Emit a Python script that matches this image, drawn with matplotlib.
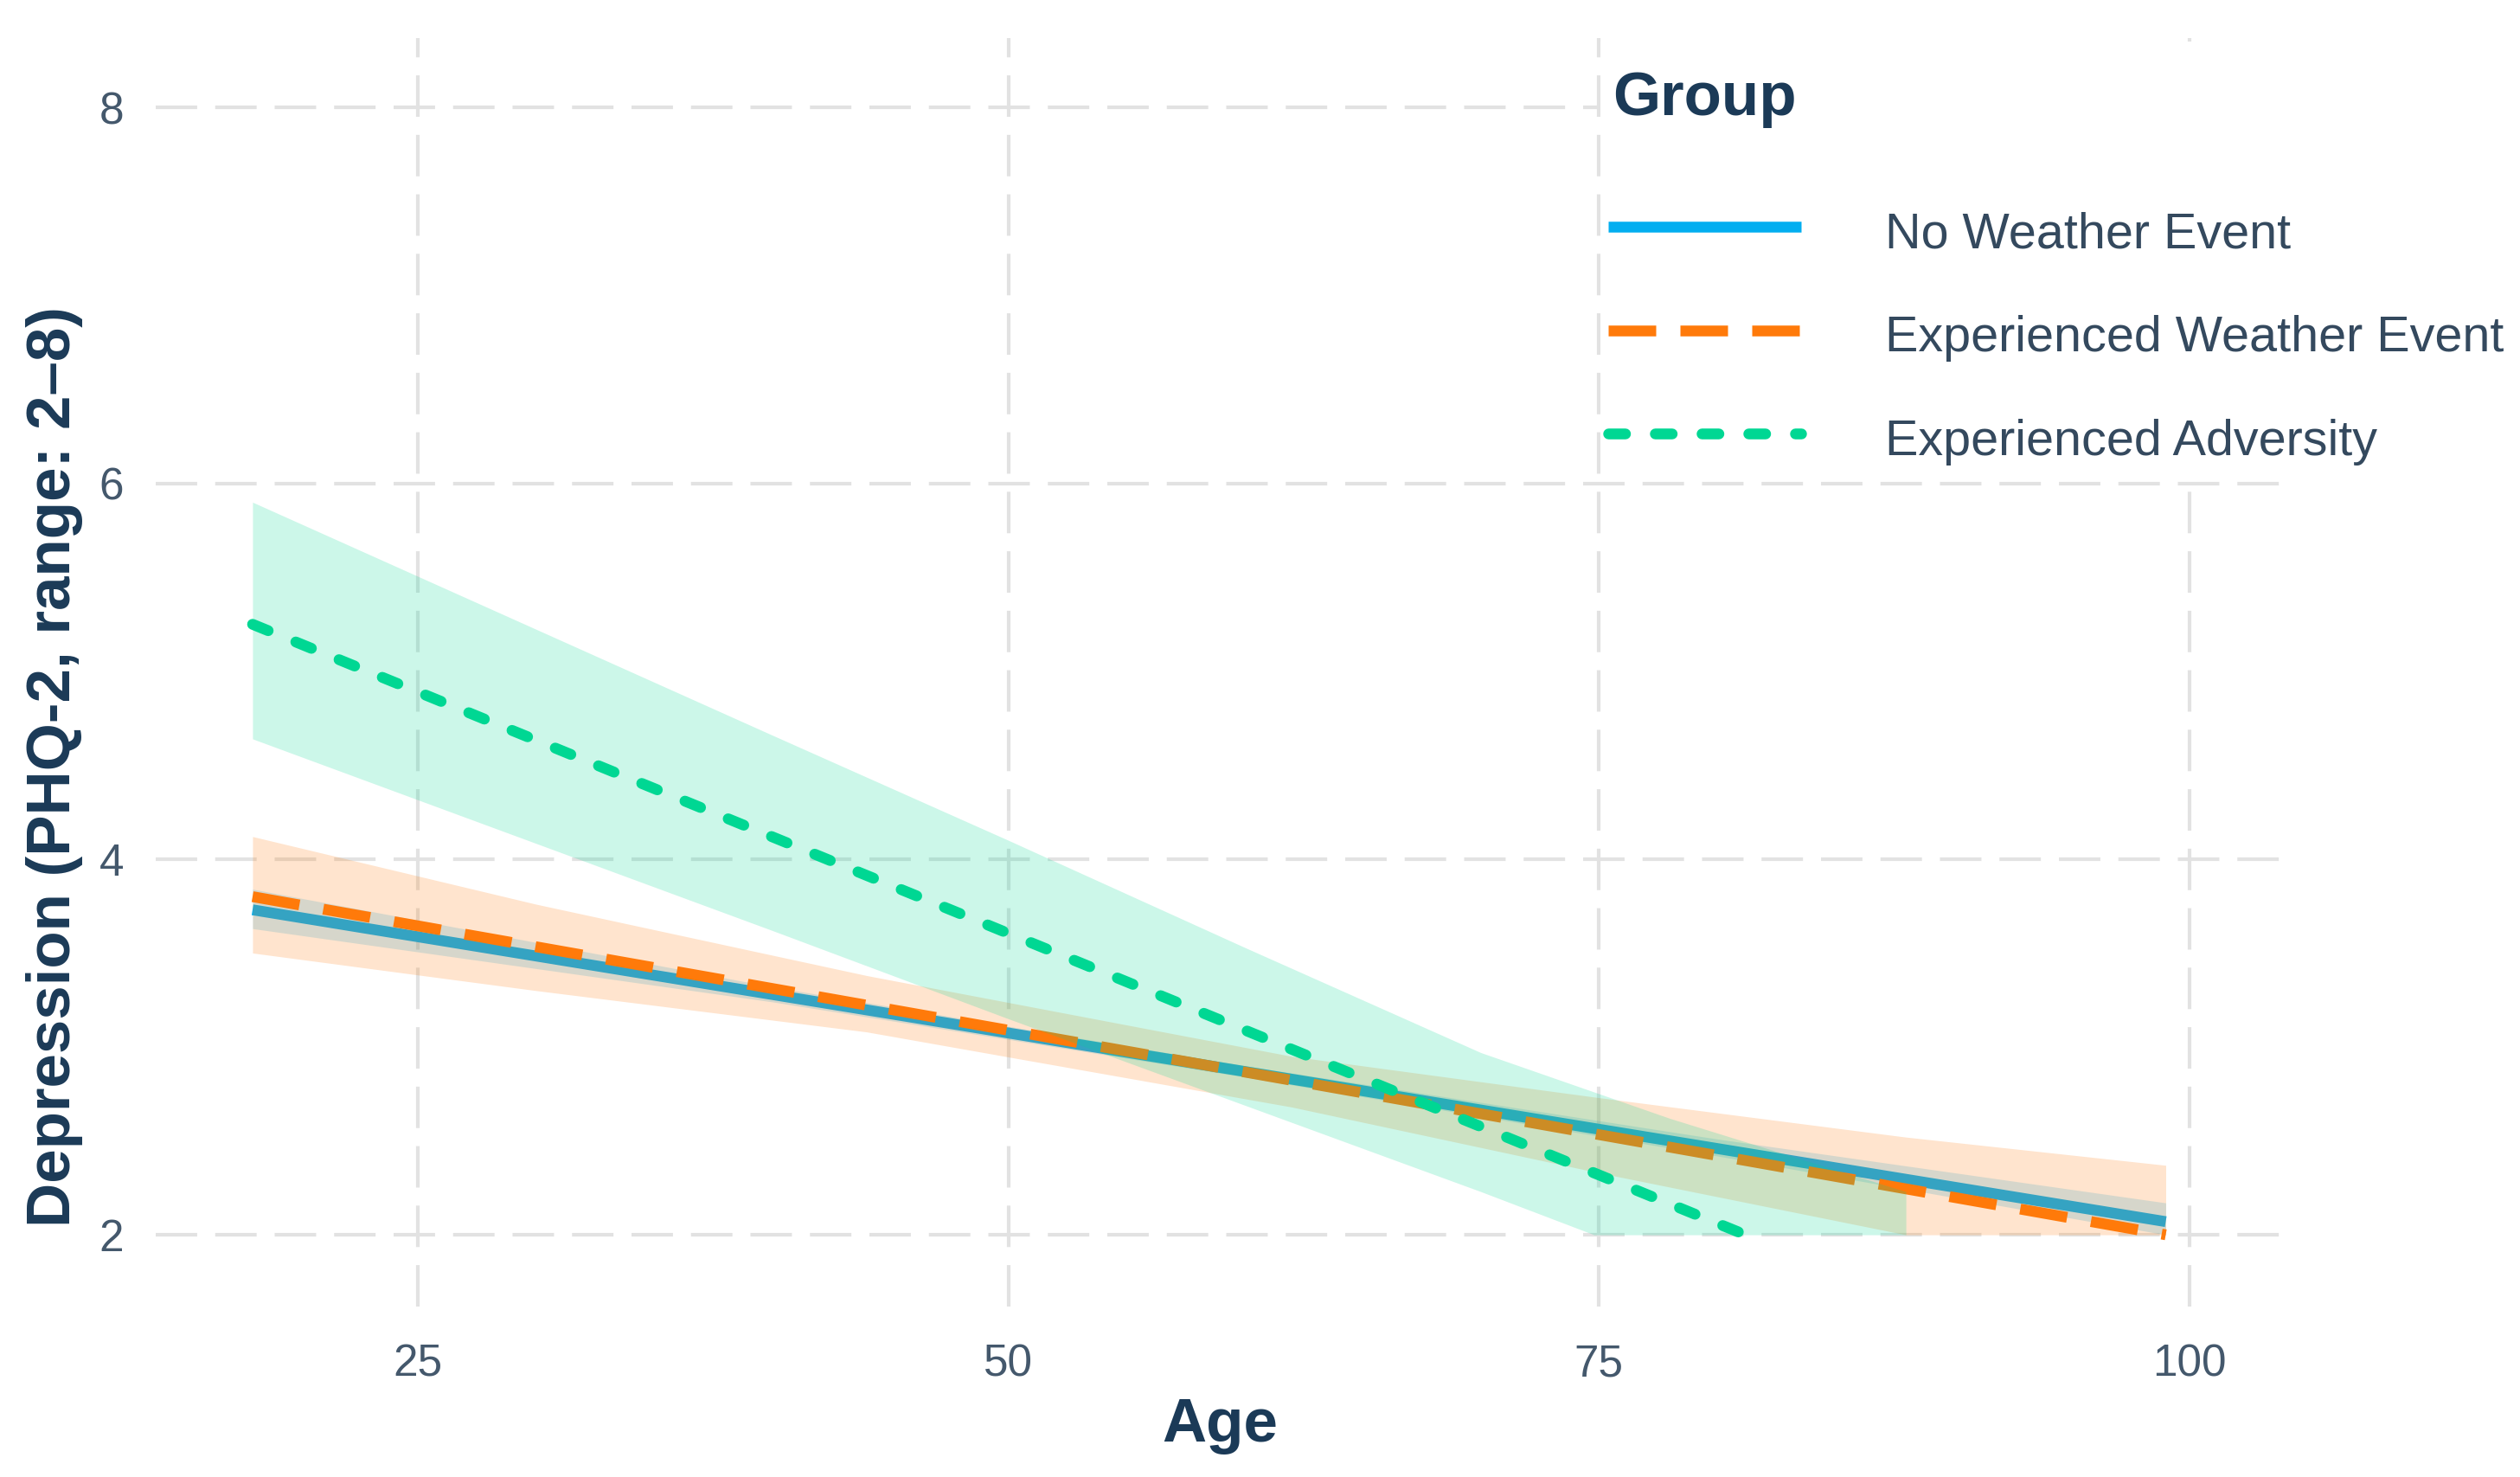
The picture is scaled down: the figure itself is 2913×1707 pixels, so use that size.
import matplotlib
matplotlib.use("Agg")
import matplotlib.pyplot as plt
from matplotlib.lines import Line2D
from matplotlib.patches import Rectangle

plt.rcParams['font.family'] = ['Liberation Sans', 'DejaVu Sans']

# fitted lines (age, predicted PHQ-2)
blue_age = [18, 99]
blue_fit = [3.73, 2.07]
orange_age = [18, 99]
orange_fit = [3.80, 2.00]
green_age = [18, 81.2]
green_fit = [5.25, 2.00]

# confidence bands (values below 2 squished to 2)
blue_band_age = [18, 40, 60, 80, 99]
blue_lo = [3.63, 3.24, 2.84, 2.42, 2.00]
blue_hi = [3.84, 3.32, 2.90, 2.51, 2.17]

orange_band_age = [18, 30, 44, 62, 75, 88, 99]
orange_lo = [3.50, 3.30, 3.08, 2.68, 2.33, 2.00, 2.00]
orange_hi = [4.12, 3.76, 3.38, 2.95, 2.73, 2.52, 2.37]

green_band_age = [18, 40, 50, 60, 70, 74.8, 78, 88]
green_lo = [4.64, 3.62, 3.15, 2.69, 2.23, 2.00, 2.00, 2.00]
green_hi = [5.90, 4.66, 4.10, 3.53, 2.97, 2.76, 2.62, 2.23]

labels = ['No Weather Event', 'Experienced Weather Event', 'Experienced Adversity']
colors = ['#03AEF0', '#FF7A0A', '#00D793']

x_ticks = [25, 50, 75, 100]
y_ticks = [2, 4, 6, 8]

W, H = 2913, 1707
fig = plt.figure(figsize=(W / 300, H / 300), dpi=300)
ax = fig.add_axes([180 / W, 1 - 1510 / H, 2460 / W, 1466.5 / H])

lw = 3.0
orange_ls = (0, (4.4, 2.24))
green_ls = (0, (1.56, 2.76))

# draw order like ggplot: ribbon then line, group by group
ax.fill_between(blue_band_age, blue_lo, blue_hi, color=colors[0], alpha=0.2, lw=0, zorder=2)
ax.plot(blue_age, blue_fit, color=colors[0], lw=lw, solid_capstyle='butt', zorder=3)
ax.fill_between(orange_band_age, orange_lo, orange_hi, color=colors[1], alpha=0.2, lw=0, zorder=4)
ax.plot(orange_age, orange_fit, color=colors[1], lw=lw, linestyle=orange_ls,
        dash_capstyle='butt', zorder=5)
ax.fill_between(green_band_age, green_lo, green_hi, color=colors[2], alpha=0.2, lw=0, zorder=6)
ax.plot(green_age, green_fit, color=colors[2], lw=lw, linestyle=green_ls,
        dash_capstyle='round', zorder=7)

ax.set_xlim(13.9, 104.0)
ax.set_ylim(1.618, 8.373)
ax.set_xticks(x_ticks)
ax.set_yticks(y_ticks)
ax.grid(True, color='#E2E2E2', linestyle=(0, (11.5, 5)), linewidth=1.0, zorder=0)
ax.set_axisbelow(True)
for s in ax.spines.values():
    s.set_visible(False)
ax.tick_params(axis='both', length=0, labelsize=12.3, labelcolor='#44586C')
ax.tick_params(axis='y', pad=8.9)
ax.tick_params(axis='x', pad=10.3)

title_c = '#1B3A57'
fig.text(1410 / W, 1 - 1648 / H, 'Age', ha='center', va='center',
         fontsize=17, fontweight='bold', color=title_c)
fig.text(63 / W, 1 - 886 / H, 'Depression (PHQ-2, range: 2\u20138)', ha='center', va='center',
         rotation=90, fontsize=17, fontweight='bold', color=title_c)

# white legend background over the panel
fig.patches.append(Rectangle((1850 / W, 1 - 548 / H), (W - 1850) / W, 500 / H,
                             transform=fig.transFigure, facecolor='white',
                             edgecolor='none', zorder=1))

handles = [
    Line2D([], [], color=colors[0], lw=lw, solid_capstyle='butt'),
    Line2D([], [], color=colors[1], lw=lw, linestyle=orange_ls, dash_capstyle='butt'),
    Line2D([], [], color=colors[2], lw=lw, linestyle=green_ls, dash_capstyle='round'),
]
fig.text(1864 / W, 1 - 115 / H, 'Group', ha='left', va='center',
         fontsize=17, fontweight='bold', color=title_c)
leg = fig.legend(handles, labels, loc='upper left', bbox_to_anchor=(1859 / W, 1 - 238 / H),
                 frameon=False, fontsize=13.8, handlelength=3.87, handletextpad=1.7,
                 handleheight=1.2, labelspacing=1.02, borderpad=0, borderaxespad=0)
for t in leg.get_texts():
    t.set_color('#34495E')

fig.savefig('out.png', dpi=300, facecolor='white')
